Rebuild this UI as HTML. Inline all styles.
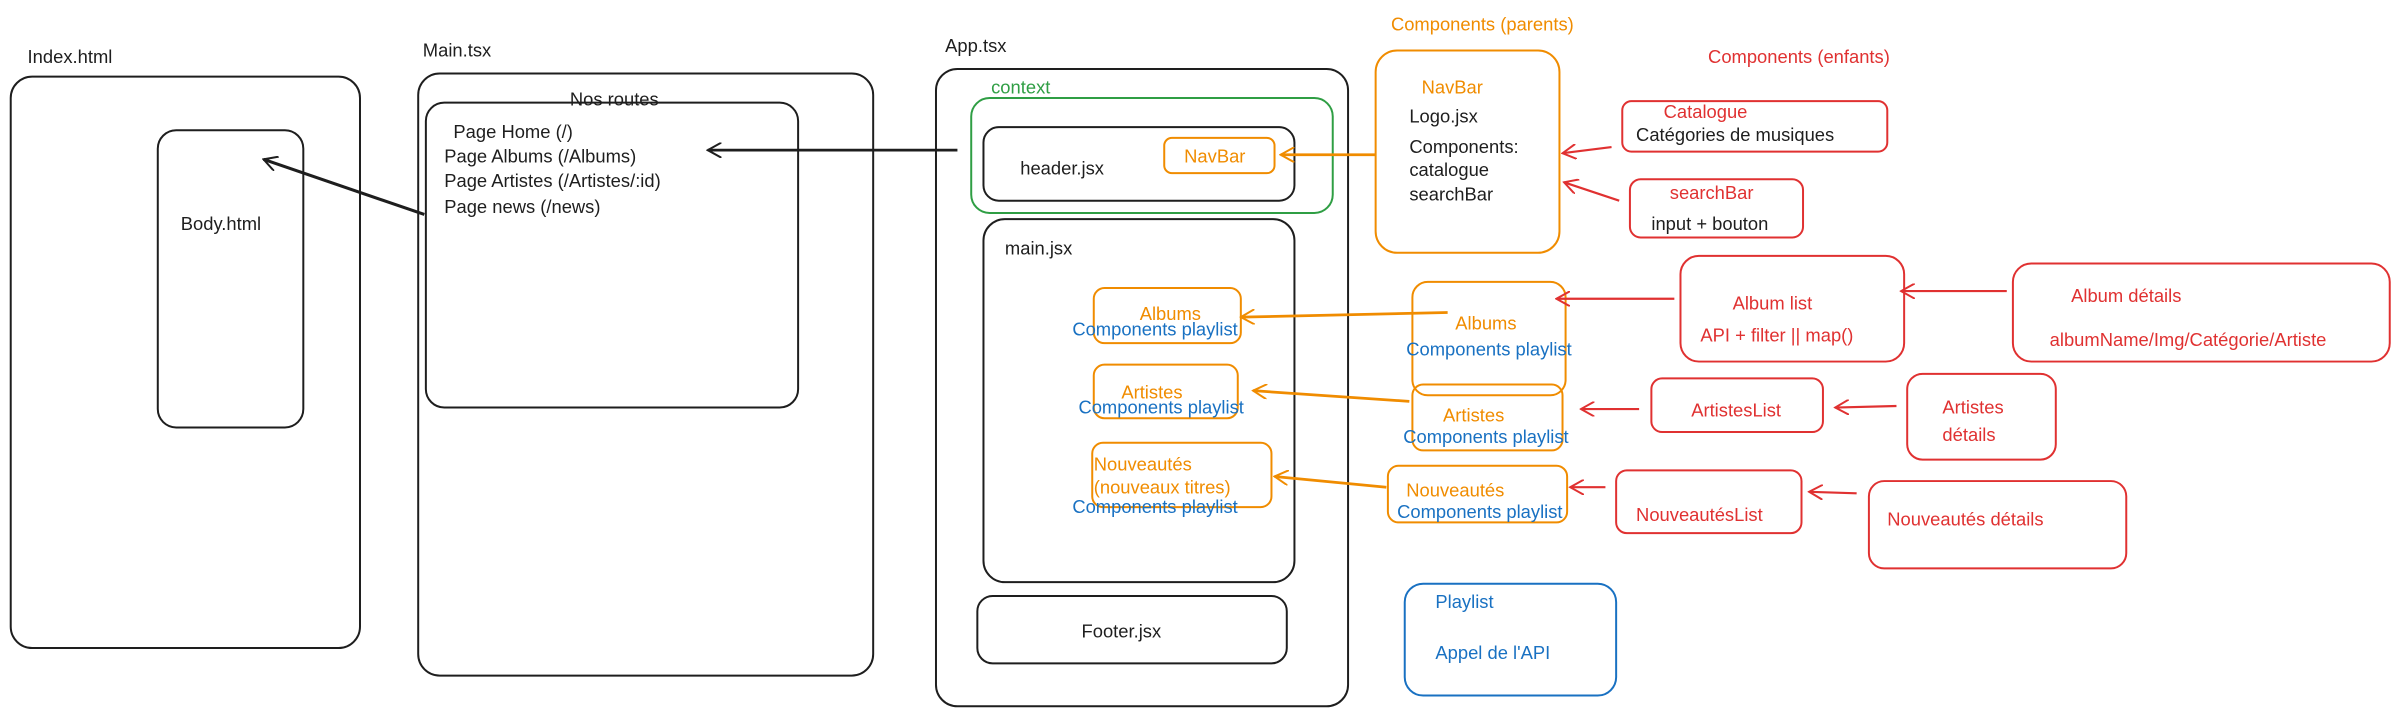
<!DOCTYPE html>
<html><head><meta charset="utf-8"><style>
html,body{margin:0;padding:0;background:#fff;}
svg{display:block;}
text{font-family:"Liberation Sans",sans-serif;font-size:12px;}
</style></head><body>
<svg width="2402" height="717" viewBox="0 0 1568 468" preserveAspectRatio="none" xmlns="http://www.w3.org/2000/svg">
<defs>
<marker id="ak" markerWidth="10" markerHeight="10" refX="9" refY="5" orient="auto" markerUnits="userSpaceOnUse"><path d="M0,0 L9,5 L0,10" fill="none" stroke="#1e1e1e" stroke-width="1.3"/></marker>
<marker id="ao" markerWidth="10" markerHeight="10" refX="9" refY="5" orient="auto" markerUnits="userSpaceOnUse"><path d="M0,0 L9,5 L0,10" fill="none" stroke="#f08c00" stroke-width="1.3"/></marker>
<marker id="ar" markerWidth="10" markerHeight="10" refX="9" refY="5" orient="auto" markerUnits="userSpaceOnUse"><path d="M0,0 L9,5 L0,10" fill="none" stroke="#e03131" stroke-width="1.3"/></marker>
</defs>
<g fill="none" stroke-width="1.3">
<g stroke="#1e1e1e">
<rect x="7" y="50" width="228" height="373" rx="14"/>
<rect x="103" y="85" width="95" height="194" rx="12"/>
<rect x="273" y="48" width="297" height="393" rx="14"/>
<rect x="278" y="67" width="243" height="199" rx="12"/>
<rect x="611" y="45" width="269" height="416" rx="14"/>
<rect x="642" y="83" width="203" height="48" rx="10"/>
<rect x="642" y="143" width="203" height="237" rx="14"/>
<rect x="638" y="389" width="202" height="44" rx="10"/>
</g>
<rect x="634" y="64" width="236" height="75" rx="12" stroke="#2f9e44"/>
<g stroke="#f08c00">
<rect x="760" y="90" width="72" height="23" rx="5"/>
<rect x="714" y="188" width="96" height="36" rx="7"/>
<rect x="714" y="238" width="94" height="35" rx="7"/>
<rect x="713" y="289" width="117" height="42" rx="7"/>
<rect x="898" y="33" width="120" height="132" rx="14"/>
<rect x="922" y="184" width="100" height="74" rx="10"/>
<rect x="922" y="251" width="98" height="43" rx="7"/>
<rect x="906" y="304" width="117" height="37" rx="7"/>
</g>
<rect x="917" y="381" width="138" height="73" rx="12" stroke="#1971c2"/>
<g stroke="#e03131">
<rect x="1059" y="66" width="173" height="33" rx="6"/>
<rect x="1064" y="117" width="113" height="38" rx="7"/>
<rect x="1097" y="167" width="146" height="69" rx="12"/>
<rect x="1314" y="172" width="246" height="64" rx="12"/>
<rect x="1078" y="247" width="112" height="35" rx="7"/>
<rect x="1245" y="244" width="97" height="56" rx="10"/>
<rect x="1055" y="307" width="121" height="41" rx="7"/>
<rect x="1220" y="314" width="168" height="57" rx="10"/>
</g>
<line x1="277" y1="140" x2="172" y2="104" stroke="#1e1e1e" stroke-width="2" marker-end="url(#ak)"/>
<line x1="625" y1="98" x2="462" y2="98" stroke="#1e1e1e" stroke-width="1.8" marker-end="url(#ak)"/>
<g stroke="#f08c00" stroke-width="1.8">
<line x1="898" y1="101" x2="836" y2="101" marker-end="url(#ao)"/>
<line x1="945" y1="204" x2="810" y2="207" marker-end="url(#ao)"/>
<line x1="920" y1="262" x2="818" y2="255" marker-end="url(#ao)"/>
<line x1="905" y1="318" x2="832" y2="311" marker-end="url(#ao)"/>
</g>
<g stroke="#e03131" stroke-width="1.4">
<line x1="1052" y1="96" x2="1020" y2="100" marker-end="url(#ar)"/>
<line x1="1057" y1="131" x2="1021" y2="119" marker-end="url(#ar)"/>
<line x1="1093" y1="195" x2="1016" y2="195" marker-end="url(#ar)"/>
<line x1="1310" y1="190" x2="1241" y2="190" marker-end="url(#ar)"/>
<line x1="1070" y1="267" x2="1032" y2="267" marker-end="url(#ar)"/>
<line x1="1238" y1="265" x2="1198" y2="266" marker-end="url(#ar)"/>
<line x1="1048" y1="318" x2="1025" y2="318" marker-end="url(#ar)"/>
<line x1="1212" y1="322" x2="1181" y2="321" marker-end="url(#ar)"/>
</g>
</g>
<g fill="#1e1e1e">
<text x="18" y="41">Index.html</text>
<text x="118" y="150">Body.html</text>
<text x="276" y="37">Main.tsx</text>
<text x="372" y="69">Nos routes</text>
<text x="296" y="90">Page Home (/)</text>
<text x="290" y="106">Page Albums (/Albums)</text>
<text x="290" y="122">Page Artistes (/Artistes/:id)</text>
<text x="290" y="139">Page news (/news)</text>
<text x="617" y="34">App.tsx</text>
<text x="666" y="114">header.jsx</text>
<text x="656" y="166" font-size="11">main.jsx</text>
<text x="706" y="416">Footer.jsx</text>
<text x="920" y="80">Logo.jsx</text>
<text x="920" y="100">Components:</text>
<text x="920" y="115">catalogue</text>
<text x="920" y="131">searchBar</text>
<text x="1068" y="92">Catégories de musiques</text>
<text x="1078" y="150">input + bouton</text>
</g>
<text x="647" y="61" fill="#2f9e44">context</text>
<g fill="#f08c00">
<text x="908" y="20">Components (parents)</text>
<text x="773" y="106">NavBar</text>
<text x="928" y="61">NavBar</text>
<text x="744" y="209">Albums</text>
<text x="732" y="260">Artistes</text>
<text x="714" y="307">Nouveautés</text>
<text x="714" y="322">(nouveaux titres)</text>
<text x="950" y="215">Albums</text>
<text x="942" y="275">Artistes</text>
<text x="918" y="324">Nouveautés</text>
</g>
<g fill="#1971c2">
<text x="700" y="219">Components playlist</text>
<text x="704" y="270">Components playlist</text>
<text x="700" y="335">Components playlist</text>
<text x="918" y="232">Components playlist</text>
<text x="916" y="289">Components playlist</text>
<text x="912" y="338">Components playlist</text>
<text x="937" y="397">Playlist</text>
<text x="937" y="430">Appel de l'API</text>
</g>
<g fill="#e03131">
<text x="1115" y="41">Components (enfants)</text>
<text x="1086" y="77">Catalogue</text>
<text x="1090" y="130">searchBar</text>
<text x="1131" y="202">Album list</text>
<text x="1110" y="223">API + filter || map()</text>
<text x="1352" y="197">Album détails</text>
<text x="1338" y="226">albumName/Img/Catégorie/Artiste</text>
<text x="1104" y="272">ArtistesList</text>
<text x="1268" y="270">Artistes</text>
<text x="1268" y="288">détails</text>
<text x="1068" y="340">NouveautésList</text>
<text x="1232" y="343">Nouveautés détails</text>
</g>
</svg>
</body></html>
